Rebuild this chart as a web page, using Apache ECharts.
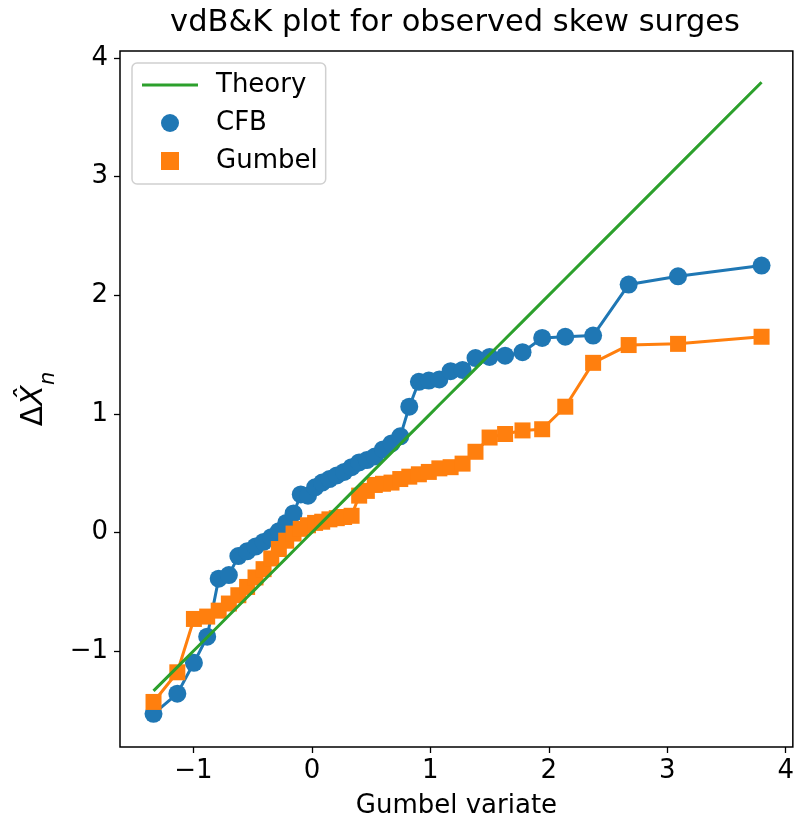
<!DOCTYPE html>
<html>
<head>
<meta charset="utf-8">
<style type="text/css">
	html,body{margin:0;padding:0;background:#fff}
	#main{width:797px;height:825px;}
</style>
<script src="https://cdn.jsdelivr.net/npm/echarts@6/dist/echarts.min.js"></script>
</head>
<body>
<div id="main"></div>
<script type="text/javascript">
// Gumbel reduced variates of the 44 ranked observations (x axis)
var gumbelVariate = [-1.337, -1.136, -0.996, -0.884, -0.787, -0.701, -0.621, -0.547, -0.476, -0.408,
	-0.343, -0.279, -0.217, -0.155, -0.094, -0.033, 0.027, 0.087, 0.148, 0.210,
	0.272, 0.335, 0.399, 0.464, 0.531, 0.600, 0.672, 0.746, 0.822, 0.903,
	0.987, 1.076, 1.171, 1.272, 1.381, 1.500, 1.631, 1.778, 1.944, 2.139,
	2.374, 2.674, 3.091, 3.796];
// observed skew surges, CFB
var cfbValues = [-1.53, -1.36, -1.10, -0.88, -0.39, -0.36, -0.20, -0.16, -0.12, -0.08,
	-0.04, 0.01, 0.08, 0.16, 0.32, 0.31, 0.38, 0.42, 0.45, 0.48,
	0.51, 0.55, 0.59, 0.61, 0.64, 0.70, 0.75, 0.81, 1.06, 1.27,
	1.28, 1.29, 1.36, 1.37, 1.47, 1.48, 1.49, 1.52, 1.64, 1.65,
	1.66, 2.09, 2.16, 2.25];
// Gumbel fit
var gumbelValues = [-1.43, -1.18, -0.73, -0.71, -0.66, -0.60, -0.53, -0.46, -0.38, -0.31,
	-0.22, -0.14, -0.07, -0.01, 0.03, 0.06, 0.08, 0.09, 0.11, 0.12,
	0.13, 0.14, 0.31, 0.35, 0.40, 0.41, 0.42, 0.45, 0.47, 0.49,
	0.51, 0.54, 0.55, 0.58, 0.68, 0.80, 0.83, 0.86, 0.87, 1.06,
	1.43, 1.58, 1.59, 1.65];
var xTicks = [-1, 0, 1, 2, 3, 4];
var yTicks = [-1, 0, 1, 2, 3, 4];

var FONT = 'DejaVu Sans';

function pairs(xs, ys){
	return xs.map(function(x, i){ return [x, ys[i]]; });
}
function minusFmt(v){
	return v < 0 ? '\u2212' + Math.abs(v) : String(v);
}

var chart = echarts.init(document.getElementById('main'), null, {renderer: 'canvas'});

var option = {
	animation: false,
	backgroundColor: '#fff',
	title: {
		text: 'vdB&K plot for observed skew surges',
		left: 450,
		textAlign: 'center',
		top: 3,
		textStyle: {fontFamily: FONT, fontSize: 30.5, fontWeight: 'normal', color: '#000'}
	},
	legend: {
		orient: 'vertical',
		left: 132,
		top: 63,
		padding: [9, 8, 10, 10],
		itemWidth: 56,
		itemHeight: 18,
		itemGap: 12,
		itemTextGap: 6,
		backgroundColor: 'rgba(255,255,255,0.8)',
		borderColor: '#d0d0d0',
		borderWidth: 1.5,
		borderRadius: 5,
		textStyle: {fontFamily: FONT, fontSize: 26, color: '#000', padding: [0, 0, 0, 13]},
		data: [
			{name: 'Theory', icon: 'path://M0,0 L56,0 L56,3 L0,3 Z'},
			{name: 'CFB', icon: 'circle'},
			{name: 'Gumbel', icon: 'path://M0,0 L1,0 L1,1 L0,1 Z'}
		]
	},
	grid: {
		left: 120, right: 4, top: 51, bottom: 78,
		show: true, borderColor: '#000', borderWidth: 1.5,
		backgroundColor: 'transparent'
	},
	xAxis: {
		type: 'value',
		min: -1.62, max: 4.06,
		name: 'Gumbel variate',
		nameLocation: 'middle',
		nameGap: 46,
		nameTextStyle: {fontFamily: FONT, fontSize: 26, color: '#000'},
		axisLine: {show: false, onZero: false},
		splitLine: {show: false},
		axisTick: {show: true, inside: false, length: 6, lineStyle: {color: '#000', width: 1.3}, customValues: xTicks},
		axisLabel: {
			fontFamily: FONT, fontSize: 26, color: '#000', margin: 11,
			customValues: xTicks, formatter: minusFmt
		}
	},
	yAxis: {
		type: 'value',
		min: -1.81, max: 4.06,
		name: '{d|Δ}{x|X̂}{n|n}',
		nameLocation: 'middle',
		nameRotate: 90,
		nameGap: 66,
		nameTextStyle: {
			fontFamily: FONT, fontSize: 30, color: '#000',
			rich: {
				d: {fontFamily: FONT, fontSize: 30, color: '#000'},
				x: {fontFamily: FONT, fontSize: 30, fontStyle: 'italic', color: '#000'},
				n: {fontFamily: FONT, fontSize: 21, fontStyle: 'italic', color: '#000', verticalAlign: 'bottom', padding: [0, 0, -10, 0]}
			}
		},
		axisLine: {show: false, onZero: false},
		splitLine: {show: false},
		axisTick: {show: true, inside: false, length: 6, lineStyle: {color: '#000', width: 1.3}, customValues: yTicks},
		axisLabel: {
			fontFamily: FONT, fontSize: 26, color: '#000', margin: 12,
			customValues: yTicks, formatter: minusFmt
		}
	},
	series: [
		{
			name: 'CFB',
			type: 'line',
			z: 2,
			data: pairs(gumbelVariate, cfbValues),
			symbol: 'circle',
			symbolSize: 18,
			lineStyle: {color: '#1f77b4', width: 3},
			itemStyle: {color: '#1f77b4'}
		},
		{
			name: 'Gumbel',
			type: 'line',
			z: 3,
			data: pairs(gumbelVariate, gumbelValues),
			symbol: 'rect',
			symbolSize: 16,
			lineStyle: {color: '#ff7f0e', width: 3},
			itemStyle: {color: '#ff7f0e'}
		},
		{
			name: 'Theory',
			type: 'line',
			z: 4,
			// theory: y = x at the same variates
			data: pairs(gumbelVariate, gumbelVariate),
			symbol: 'none',
			lineStyle: {color: '#2ca02c', width: 3},
			itemStyle: {color: '#2ca02c'}
		}
	]
};

chart.setOption(option);
</script>
</body>
</html>
